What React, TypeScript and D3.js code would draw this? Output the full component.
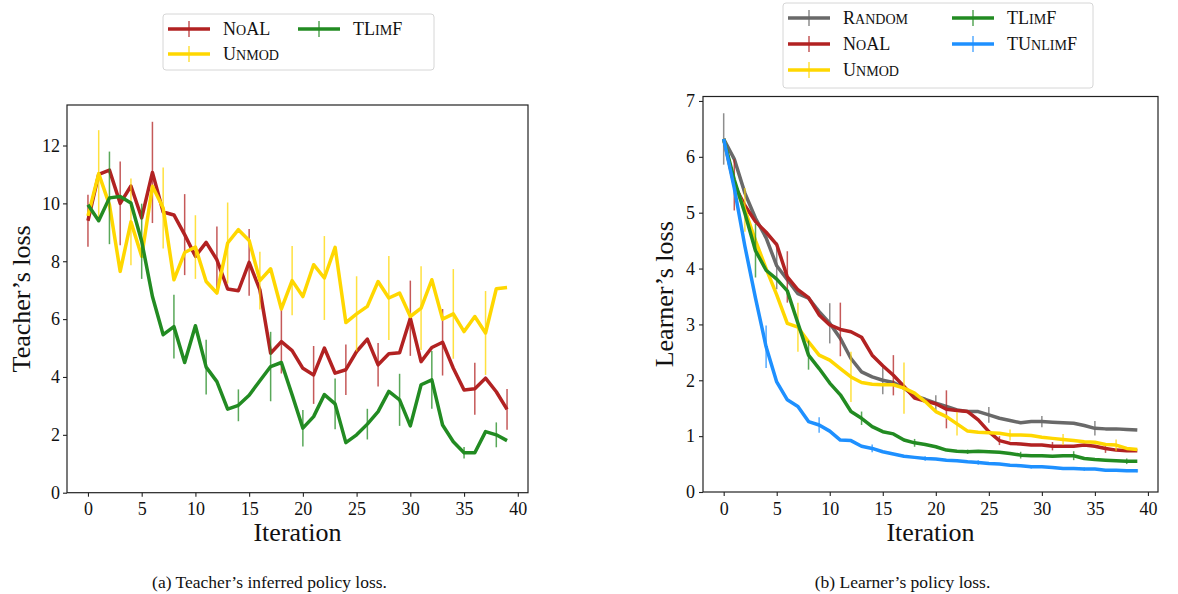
import React, { useEffect, useRef } from "react";
import * as d3 from "d3";

const ITERATIONS = d3.range(40);
const X_TICKS = [0, 5, 10, 15, 20, 25, 30, 35, 40];

// (a) Teacher's inferred policy loss
const TEACHER_Y_TICKS = [0, 2, 4, 6, 8, 10, 12];
const teacherNoAL = [9.4, 11.0, 11.15, 10.0, 10.6, 9.5, 11.07, 9.7, 9.6, 8.92, 8.17, 8.65, 8.05, 7.04, 6.98, 7.96, 7.01, 4.82, 5.22, 4.91, 4.3, 4.07, 5.0, 4.13, 4.25, 4.88, 5.31, 4.42, 4.8, 4.84, 6.03, 4.53, 5.02, 5.2, 4.3, 3.55, 3.59, 3.96, 3.49, 2.88];
const teacherUnmod = [9.57, 11.03, 9.95, 7.65, 9.36, 8.17, 10.59, 9.84, 7.36, 8.3, 8.49, 7.3, 6.9, 8.63, 9.09, 8.72, 7.33, 7.74, 6.35, 7.33, 6.78, 7.88, 7.42, 8.48, 5.88, 6.18, 6.44, 7.3, 6.73, 6.9, 6.09, 6.38, 7.36, 6.0, 6.18, 5.57, 6.09, 5.52, 7.05, 7.09];
const teacherTLimF = [9.95, 9.4, 10.19, 10.24, 10.01, 8.69, 6.78, 5.46, 5.74, 4.5, 5.77, 4.34, 3.84, 2.89, 3.02, 3.37, 3.87, 4.36, 4.5, 3.38, 2.23, 2.63, 3.39, 3.07, 1.73, 2.0, 2.37, 2.8, 3.5, 3.21, 2.31, 3.73, 3.9, 2.34, 1.76, 1.38, 1.38, 2.11, 2.0, 1.8];
// std shown every 3rd iteration (NoAL from 0, Unmod from 1, TLimF from 2)
const teacherNoALErr = [0.9, 1.45, 1.75, 1.4, 1.15, 1.15, 1.1, 1.0, 0.87, 0.75, 1.3, 1.15, 0.9, 0.7];
const teacherUnmodErr = [1.5, 1.5, 1.4, 1.1, 1.4, 1.0, 1.2, 1.45, 1.3, 1.45, 1.45, 1.55, 1.45];
const teacherTLimFErr = [1.6, 1.3, 1.1, 0.95, 0.55, 1.2, 0.63, 0.88, 0.53, 0.9, 1.0, 0.2, 0.43];

// (b) Learner's policy loss
const LEARNER_Y_TICKS = [0, 1, 2, 3, 4, 5, 6, 7];
const learnerRandom = [6.32, 5.96, 5.35, 4.9, 4.55, 4.05, 3.8, 3.55, 3.47, 3.23, 3.02, 2.75, 2.39, 2.15, 2.06, 2.0, 1.96, 1.86, 1.72, 1.66, 1.59, 1.53, 1.47, 1.44, 1.44, 1.38, 1.32, 1.28, 1.24, 1.26, 1.26, 1.25, 1.24, 1.23, 1.19, 1.14, 1.13, 1.13, 1.12, 1.11];
const learnerNoAL = [6.32, 5.5, 5.13, 4.84, 4.65, 4.43, 3.85, 3.62, 3.48, 3.17, 2.99, 2.91, 2.87, 2.77, 2.45, 2.26, 2.09, 1.89, 1.68, 1.63, 1.58, 1.48, 1.46, 1.44, 1.29, 1.08, 0.92, 0.87, 0.86, 0.84, 0.84, 0.82, 0.82, 0.82, 0.84, 0.82, 0.78, 0.75, 0.74, 0.74];
const learnerUnmod = [6.32, 5.5, 5.05, 4.5, 4.0, 3.53, 3.02, 2.95, 2.69, 2.45, 2.36, 2.21, 2.06, 1.96, 1.93, 1.92, 1.92, 1.86, 1.77, 1.62, 1.44, 1.35, 1.22, 1.09, 1.07, 1.06, 1.05, 1.02, 1.02, 1.01, 0.98, 0.96, 0.94, 0.92, 0.9, 0.89, 0.85, 0.84, 0.78, 0.76];
const learnerTLimF = [6.32, 5.59, 4.99, 4.32, 3.97, 3.81, 3.6, 3.02, 2.45, 2.21, 1.95, 1.74, 1.44, 1.32, 1.17, 1.08, 1.04, 0.93, 0.88, 0.85, 0.81, 0.75, 0.73, 0.72, 0.73, 0.72, 0.71, 0.69, 0.66, 0.65, 0.65, 0.64, 0.65, 0.65, 0.6, 0.58, 0.57, 0.56, 0.55, 0.55];
const learnerTUnlimF = [6.32, 5.44, 4.4, 3.47, 2.6, 1.97, 1.65, 1.53, 1.26, 1.2, 1.09, 0.93, 0.92, 0.82, 0.78, 0.72, 0.68, 0.64, 0.62, 0.6, 0.59, 0.57, 0.56, 0.54, 0.53, 0.51, 0.5, 0.48, 0.47, 0.45, 0.45, 0.44, 0.42, 0.42, 0.41, 0.41, 0.39, 0.39, 0.38, 0.38];
// std shown every 5th iteration (offsets 0..4)
const learnerRandomErr = [0.46, 0.42, 0.36, 0.25, 0.14, 0.14, 0.1, 0.13];
const learnerNoALErr = [0.46, 0.46, 0.48, 0.36, 0.34, 0.08, 0.075, 0.08];
const learnerUnmodErr = [0.39, 0.44, 0.45, 0.46, 0.21, 0.1, 0.1, 0.1];
const learnerTLimFErr = [0.48, 0.26, 0.12, 0.07, 0.04, 0.06, 0.08, 0.05];
const learnerTUnlimFErr = [0.38, 0.14, 0.07, 0.04, 0.04, 0.03, 0.03, 0.03];

const FONT = "'Liberation Serif', 'Times New Roman', serif";
const COLORS = {
  random: "#696969",
  noal: "#b22222",
  unmod: "#ffd700",
  tlimf: "#228b22",
  tunlimf: "#1e90ff",
};

type Series = {
  label: string;
  color: string;
  values: number[];
  err: number[];
  errStart: number;
  errEvery: number;
  col: number;
  row: number;
};

type PanelCfg = {
  frame: { left: number; right: number; top: number; bottom: number };
  yDomain: [number, number];
  yTicks: number[];
  yLabel: string;
  yLabelX: number;
  yPad: number;
  caption: string;
  series: Series[];
  legend: { x: number; y: number; w: number; h: number; colGap: number; rowGap: number };
};

// LaTeX-style small caps: lowercase letters become smaller capitals
function smallCaps(text: any, label: string, size: number) {
  label.split("").forEach((ch) => {
    const lower = ch !== ch.toUpperCase();
    text
      .append("tspan")
      .attr("font-size", lower ? size * 0.78 : size)
      .text(ch.toUpperCase());
  });
}

function drawPanel(svg: any, cfg: PanelCfg) {
  const { frame, series, legend } = cfg;
  const x = d3.scaleLinear().domain([-1.95, 40.95]).range([frame.left, frame.right]);
  const y = d3.scaleLinear().domain(cfg.yDomain).range([frame.bottom, frame.top]);
  const g = svg.append("g");

  // Lines with error bars
  series.forEach((s) => {
    const idx = s.err.map((_, k) => s.errStart + k * s.errEvery);
    g.append("g")
      .selectAll("line")
      .data(idx)
      .enter()
      .append("line")
      .attr("x1", (i: number) => x(i))
      .attr("x2", (i: number) => x(i))
      .attr("y1", (i: number, k: number) => y(s.values[i] - s.err[k]))
      .attr("y2", (i: number, k: number) => y(s.values[i] + s.err[k]))
      .attr("stroke", s.color)
      .attr("stroke-width", 1.5)
      .attr("opacity", 0.75);

    const line = d3
      .line<number>()
      .x((i) => x(i))
      .y((i) => y(s.values[i]));
    g.append("path")
      .datum(ITERATIONS)
      .attr("d", line)
      .attr("fill", "none")
      .attr("stroke", s.color)
      .attr("stroke-width", 3.5)
      .attr("stroke-linejoin", "round");
  });

  // Frame
  g.append("rect")
    .attr("x", frame.left)
    .attr("y", frame.top)
    .attr("width", frame.right - frame.left)
    .attr("height", frame.bottom - frame.top)
    .attr("fill", "none")
    .attr("stroke", "#222")
    .attr("stroke-width", 1.2);

  // Axes
  const xAxis = g
    .append("g")
    .attr("transform", `translate(0,${frame.bottom})`)
    .call(d3.axisBottom(x).tickValues(X_TICKS).tickSize(4).tickPadding(6));
  const yAxis = g
    .append("g")
    .attr("transform", `translate(${frame.left},0)`)
    .call(d3.axisLeft(y).tickValues(cfg.yTicks).tickSize(4).tickPadding(cfg.yPad));
  [xAxis, yAxis].forEach((a) => {
    a.select(".domain").remove();
    a.selectAll("line").attr("stroke", "#222").attr("stroke-width", 1.1);
    a.selectAll("text")
      .attr("font-family", FONT)
      .attr("font-size", 18)
      .attr("fill", "#111");
  });

  // Axis labels
  g.append("text")
    .attr("x", (frame.left + frame.right) / 2)
    .attr("y", 541)
    .attr("text-anchor", "middle")
    .attr("font-family", FONT)
    .attr("font-size", 26)
    .attr("fill", "#111")
    .text("Iteration");
  g.append("text")
    .attr("transform", `translate(${cfg.yLabelX},${(frame.top + frame.bottom) / 2}) rotate(-90)`)
    .attr("text-anchor", "middle")
    .attr("dominant-baseline", "central")
    .attr("font-family", FONT)
    .attr("font-size", 26)
    .attr("fill", "#111")
    .text(cfg.yLabel);

  // Caption
  g.append("text")
    .attr("x", (frame.left + frame.right) / 2 - 28)
    .attr("y", 588)
    .attr("text-anchor", "middle")
    .attr("font-family", FONT)
    .attr("font-size", 17.5)
    .attr("fill", "#111")
    .text(cfg.caption);

  // Legend
  const lg = g.append("g");
  lg.append("rect")
    .attr("x", legend.x)
    .attr("y", legend.y)
    .attr("width", legend.w)
    .attr("height", legend.h)
    .attr("rx", 3)
    .attr("fill", "white")
    .attr("fill-opacity", 0.8)
    .attr("stroke", "#d6d6d6")
    .attr("stroke-width", 1);
  series.forEach((s) => {
    const x0 = legend.x + 5 + s.col * legend.colGap;
    const cy = legend.y + 15 + s.row * legend.rowGap;
    lg.append("line")
      .attr("x1", x0)
      .attr("x2", x0 + 42)
      .attr("y1", cy)
      .attr("y2", cy)
      .attr("stroke", s.color)
      .attr("stroke-width", 3.5);
    lg.append("line")
      .attr("x1", x0 + 21)
      .attr("x2", x0 + 21)
      .attr("y1", cy - 8)
      .attr("y2", cy + 8)
      .attr("stroke", s.color)
      .attr("stroke-width", 1.5)
      .attr("opacity", 0.75);
    const t = lg
      .append("text")
      .attr("x", x0 + 55)
      .attr("y", cy + 6)
      .attr("font-family", FONT)
      .attr("font-size", 18)
      .attr("fill", "#111");
    smallCaps(t, s.label, 18);
  });
}

const App = () => {
  const svgRef = useRef<SVGSVGElement>(null);

  useEffect(() => {
    const svg = d3.select(svgRef.current);
    svg.selectAll("*").remove();

    drawPanel(svg, {
      frame: { left: 67, right: 528, top: 105, bottom: 492.7 },
      yDomain: [0, 13.4],
      yTicks: TEACHER_Y_TICKS,
      yLabel: "Teacher’s loss",
      yLabelX: 21,
      yPad: 3,
      caption: "(a) Teacher’s inferred policy loss.",
      legend: { x: 163, y: 14, w: 271, h: 56, colGap: 130, rowGap: 25 },
      series: [
        { label: "NoAL", color: COLORS.noal, values: teacherNoAL, err: teacherNoALErr, errStart: 0, errEvery: 3, col: 0, row: 0 },
        { label: "Unmod", color: COLORS.unmod, values: teacherUnmod, err: teacherUnmodErr, errStart: 1, errEvery: 3, col: 0, row: 1 },
        { label: "TLimF", color: COLORS.tlimf, values: teacherTLimF, err: teacherTLimFErr, errStart: 2, errEvery: 3, col: 1, row: 0 },
      ],
    });

    drawPanel(svg, {
      frame: { left: 703, right: 1158, top: 96.5, bottom: 492 },
      yDomain: [0, 7.08],
      yTicks: LEARNER_Y_TICKS,
      yLabel: "Learner’s loss",
      yLabelX: 664,
      yPad: 4,
      caption: "(b) Learner’s policy loss.",
      legend: { x: 783, y: 3, w: 310, h: 85, colGap: 164, rowGap: 26 },
      series: [
        { label: "Random", color: COLORS.random, values: learnerRandom, err: learnerRandomErr, errStart: 0, errEvery: 5, col: 0, row: 0 },
        { label: "NoAL", color: COLORS.noal, values: learnerNoAL, err: learnerNoALErr, errStart: 1, errEvery: 5, col: 0, row: 1 },
        { label: "Unmod", color: COLORS.unmod, values: learnerUnmod, err: learnerUnmodErr, errStart: 2, errEvery: 5, col: 0, row: 2 },
        { label: "TLimF", color: COLORS.tlimf, values: learnerTLimF, err: learnerTLimFErr, errStart: 3, errEvery: 5, col: 1, row: 0 },
        { label: "TUnlimF", color: COLORS.tunlimf, values: learnerTUnlimF, err: learnerTUnlimFErr, errStart: 4, errEvery: 5, col: 1, row: 1 },
      ],
    });
  }, []);

  return (
    <svg
      ref={svgRef}
      width={1178}
      height={594}
      style={{ position: "absolute", left: 0, top: 0, background: "white" }}
    />
  );
};

export default App;
